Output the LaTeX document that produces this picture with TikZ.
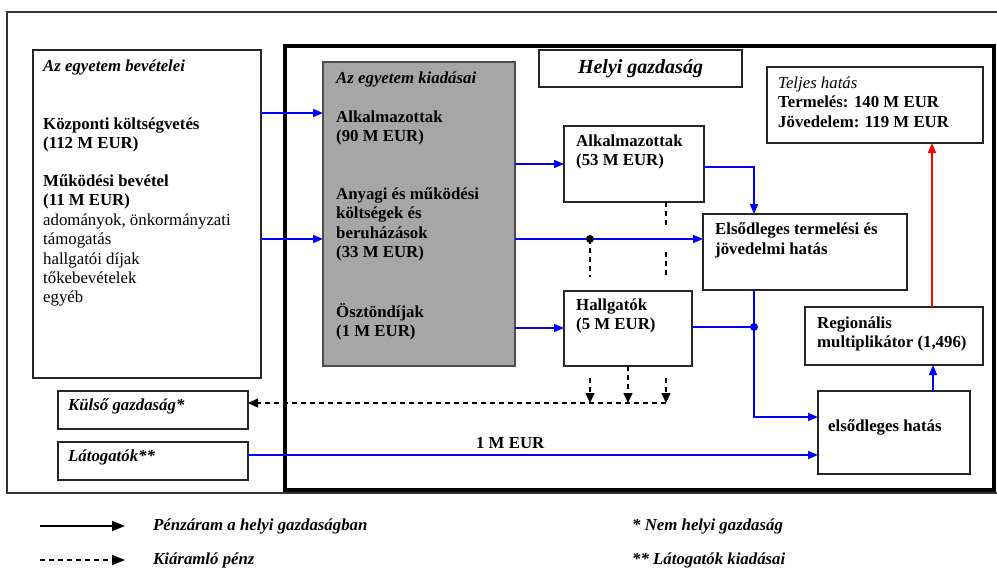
\documentclass[tikz,border=0pt]{standalone}
\usepackage{fontspec}
\setmainfont{Liberation Serif}
\usetikzlibrary{arrows.meta}
\begin{document}
\begin{tikzpicture}[x=1pt,y=-1pt,
  box/.style={draw=black!85, line width=1.1pt, fill=white, rectangle, inner sep=0pt, outer sep=0pt, anchor=north west},
  greybox/.style={box, fill=black!35, draw=black!70, line width=2.4pt},
  flow/.style={draw=blue, line width=1.6pt, -{Triangle[length=10pt,width=8pt]}},
  flowline/.style={draw=blue, line width=1.6pt},
  redflow/.style={draw=red, line width=1.6pt, -{Triangle[length=10pt,width=8pt]}},
  outline/.style={draw=black, line width=1.3pt, dash pattern=on 5pt off 4pt},
  outflow/.style={outline, -{Triangle[length=10pt,width=9pt]}},
  dot/.style={circle, fill=black, inner sep=0pt, minimum size=8pt},
  bdot/.style={circle, fill=blue, inner sep=0pt, minimum size=8pt},
  lbl/.style={anchor=west, inner sep=0pt, align=left, font=\bfseries\fontsize{16.8}{19.4}\selectfont},
  legarrow/.style={draw=black, line width=2pt, -{Triangle[length=13pt,width=10pt]}},
  legdash/.style={legarrow, dash pattern=on 5pt off 4pt}
]
\useasboundingbox (0,0) rectangle (997,570);
% outer thin frame
\draw[black!80, line width=1.1pt] (1000,12) -- (7,12) -- (7,493) -- (1000,493);
% local economy thick frame
\draw[black, line width=3.2pt] (285,46) rectangle (994,490);

% boxes
\node[box, minimum width=228pt, minimum height=328pt] (bev) at (33,50) {};
\node[greybox, minimum width=192pt, minimum height=304pt] (kiad) at (323,62) {};
\node[box, minimum width=203pt, minimum height=37pt, font=\bfseries\itshape\fontsize{20}{24}\selectfont] (helyi) at (539,50) {Helyi gazdaság};
\node[box, minimum width=140pt, minimum height=76pt] (alk) at (564,126) {};
\node[box, minimum width=204pt, minimum height=76pt] (elso) at (703,214) {};
\node[box, minimum width=128pt, minimum height=75pt] (hall) at (564,291) {};
\node[box, minimum width=216pt, minimum height=76pt] (telj) at (767,67) {};
\node[box, minimum width=178pt, minimum height=58pt] (reg) at (805,307) {};
\node[box, minimum width=152pt, minimum height=83pt] (elsohat) at (818,391) {};
\node[box, minimum width=190pt, minimum height=38pt] (kulso) at (58,391) {};
\node[box, minimum width=190pt, minimum height=38pt] (lat) at (58,442) {};

% texts
\node[lbl] at (43,67) {\textit{Az egyetem bevételei}};
\node[lbl] at (43,135) {Központi költségvetés\\(112 M EUR)};
\node[lbl] at (43,240.5) {Működési bevétel\\(11 M EUR)\\\textmd{adományok, önkormányzati}\\\textmd{támogatás}\\\textmd{hallgatói díjak}\\\textmd{tőkebevételek}\\\textmd{egyéb}};
\node[lbl] at (336,79) {\textit{Az egyetem kiadásai}};
\node[lbl] at (336,128) {Alkalmazottak\\(90 M EUR)};
\node[lbl] at (336,224.5) {Anyagi és működési\\költségek és\\beruházások\\(33 M EUR)};
\node[lbl] at (336,322) {Ösztöndíjak\\(1 M EUR)};
\node[lbl] at (576,152) {Alkalmazottak\\(53 M EUR)};
\node[lbl] at (576,316) {Hallgatók\\(5 M EUR)};
\node[lbl] at (715,240.5) {Elsődleges termelési és\\jövedelmi hatás};
\node[lbl] at (778,102) {\textmd{\textit{Teljes hatás}}\\Termelés: 140 M EUR\\Jövedelem: 119 M EUR};
\node[lbl] at (817,334) {Regionális\\multiplikátor (1,496)};
\node[lbl] at (828,427) {elsődleges hatás};
\node[lbl] at (68,406) {\textit{Külső gazdaság*}};
\node[lbl] at (68,457) {\textit{Látogatók**}};

% junctions
\coordinate (j1) at (590,239);
\coordinate (j2) at (754,327);

% solid flows
\draw[flow] (bev.east |- 0,113) -- (kiad.west |- 0,113);
\draw[flow] (bev.east |- 0,239) -- (kiad.west |- 0,239);
\draw[flow] (kiad.east |- 0,164) -- (alk.west |- 0,164);
\draw[flow] (kiad.east |- 0,239) -- (elso.west |- 0,239);
\draw[flow] (kiad.east |- 0,328) -- (hall.west |- 0,328);
\draw[flow] (alk.east |- 0,167) -| (elso.north -| 754,0);
\draw[flow] (elso.south -| 754,0) |- (elsohat.west |- 0,417);
\draw[flowline] (hall.east |- 0,327) -- (j2);
\draw[flow] (elsohat.north -| 933,0) -- (reg.south -| 933,0);
\draw[redflow] (reg.north -| 932,0) -- (telj.south -| 932,0);
\draw[flow] (lat.east |- 0,455) -- node[above=2pt, font=\bfseries\fontsize{16.8}{19.4}\selectfont, pos=0.46] {1 M EUR} (elsohat.west |- 0,455);
\node[dot] at (j1) {};
\node[bdot] at (j2) {};

% outflows (dashed)
\draw[outline] (j1) -- (590,277);
\draw[outline] (alk.south -| 666,0) -- (666,228);
\draw[outline] (666,252) -- (666,278);
\draw[outflow] (590,378) -- (590,403);
\draw[outflow] (hall.south -| 628,0) -- (628,403);
\draw[outflow] (666,378) -- (666,403);
\draw[outflow] (666,403) -- (kulso.east |- 0,403);

% legend
\coordinate (la1) at (40,526); \coordinate (la2) at (125,526);
\coordinate (lb1) at (40,560); \coordinate (lb2) at (125,560);
\draw[legarrow] (la1) -- (la2);
\draw[legdash] (lb1) -- (lb2);
\node[lbl] at (153,526) {\textit{Pénzáram a helyi gazdaságban}};
\node[lbl] at (153,560) {\textit{Kiáramló pénz}};
\node[lbl] at (632,526) {\textit{* Nem helyi gazdaság}};
\node[lbl] at (632,560) {\textit{** Látogatók kiadásai}};
\end{tikzpicture}
\end{document}
